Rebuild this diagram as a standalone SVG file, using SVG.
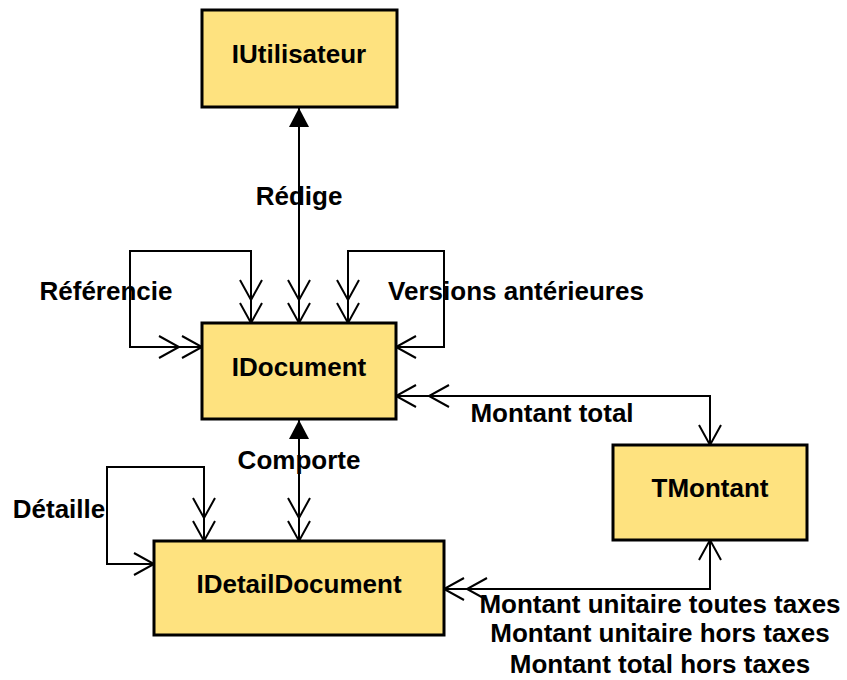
<svg xmlns="http://www.w3.org/2000/svg" width="847" height="680" viewBox="0 0 847 680">
  <style>
    .box { fill: #FEE27F; stroke: #000; stroke-width: 3; }
    .lbl { font-family: "Liberation Sans", Arial, sans-serif; font-weight: bold; font-size: 26px; fill: #000; }
    .mid { text-anchor: middle; }
    .conn { fill: none; stroke: #000; stroke-width: 2; }
  </style>
  <defs>
    <marker id="one" markerUnits="userSpaceOnUse" orient="auto-start-reverse" refX="0" refY="0" markerWidth="30" markerHeight="30" viewBox="-25 -15 30 30" overflow="visible">
      <path d="M-20,-11 L0,0 L-20,11" fill="none" stroke="#000" stroke-width="2"/>
    </marker>
    <marker id="many" markerUnits="userSpaceOnUse" orient="auto-start-reverse" refX="0" refY="0" markerWidth="60" markerHeight="30" viewBox="-50 -15 60 30" overflow="visible">
      <path d="M-20,-11 L0,0 L-20,11 M-43,-11 L-23,0 L-43,11" fill="none" stroke="#000" stroke-width="2"/>
    </marker>
    <marker id="manyw" markerUnits="userSpaceOnUse" orient="auto-start-reverse" refX="0" refY="0" markerWidth="70" markerHeight="30" viewBox="-60 -15 70 30" overflow="visible">
      <path d="M-20,-11 L0,0 L-20,11 M-53,-11 L-33,0 L-53,11" fill="none" stroke="#000" stroke-width="2"/>
    </marker>
    <marker id="tri" markerUnits="userSpaceOnUse" orient="auto-start-reverse" refX="0" refY="0" markerWidth="30" markerHeight="30" viewBox="-25 -15 30 30" overflow="visible">
      <path d="M-19,-10 L0,0 L-19,10 Z" fill="#000" stroke="none"/>
    </marker>
  </defs>

  <g id="connectors">
    <path class="conn" d="M299,323 V108" marker-start="url(#many)" marker-end="url(#tri)"/>
    <path class="conn" d="M202,347 H130 V251 H251 V323" marker-start="url(#many)" marker-end="url(#many)"/>
    <path class="conn" d="M348,323 V251 H444 V347 H396" marker-start="url(#many)" marker-end="url(#one)"/>
    <path class="conn" d="M396,396 H710 V445" marker-start="url(#manyw)" marker-end="url(#one)"/>
    <path class="conn" d="M299,541 V420" marker-start="url(#many)" marker-end="url(#tri)"/>
    <path class="conn" d="M154,564 H107 V467 H204 V541" marker-start="url(#one)" marker-end="url(#many)"/>
    <path class="conn" d="M444,589 H710 V540" marker-start="url(#many)" marker-end="url(#one)"/>
  </g>

  <g id="connector-labels">
    <text class="lbl mid" x="299" y="205">Rédige</text>
    <text class="lbl mid" x="106" y="300">Référencie</text>
    <text class="lbl mid" x="516" y="300">Versions antérieures</text>
    <text class="lbl mid" x="552" y="422">Montant total</text>
    <text class="lbl mid" x="299" y="469">Comporte</text>
    <text class="lbl mid" x="59" y="518">Détaille</text>
    <text class="lbl mid" x="660" y="613">Montant unitaire toutes taxes</text>
    <text class="lbl mid" x="660" y="642">Montant unitaire hors taxes</text>
    <text class="lbl mid" x="660" y="673">Montant total hors taxes</text>
  </g>

  <g id="IUtilisateur">
    <rect class="box" x="202" y="10" width="195" height="97"/>
    <text class="lbl mid" x="299" y="63">IUtilisateur</text>
  </g>
  <g id="IDocument">
    <rect class="box" x="202" y="323" width="194" height="96"/>
    <text class="lbl mid" x="299" y="376">IDocument</text>
  </g>
  <g id="TMontant">
    <rect class="box" x="613" y="445" width="194" height="95"/>
    <text class="lbl mid" x="710" y="497">TMontant</text>
  </g>
  <g id="IDetailDocument">
    <rect class="box" x="154" y="541" width="290" height="94"/>
    <text class="lbl mid" x="299" y="593">IDetailDocument</text>
  </g>
</svg>
